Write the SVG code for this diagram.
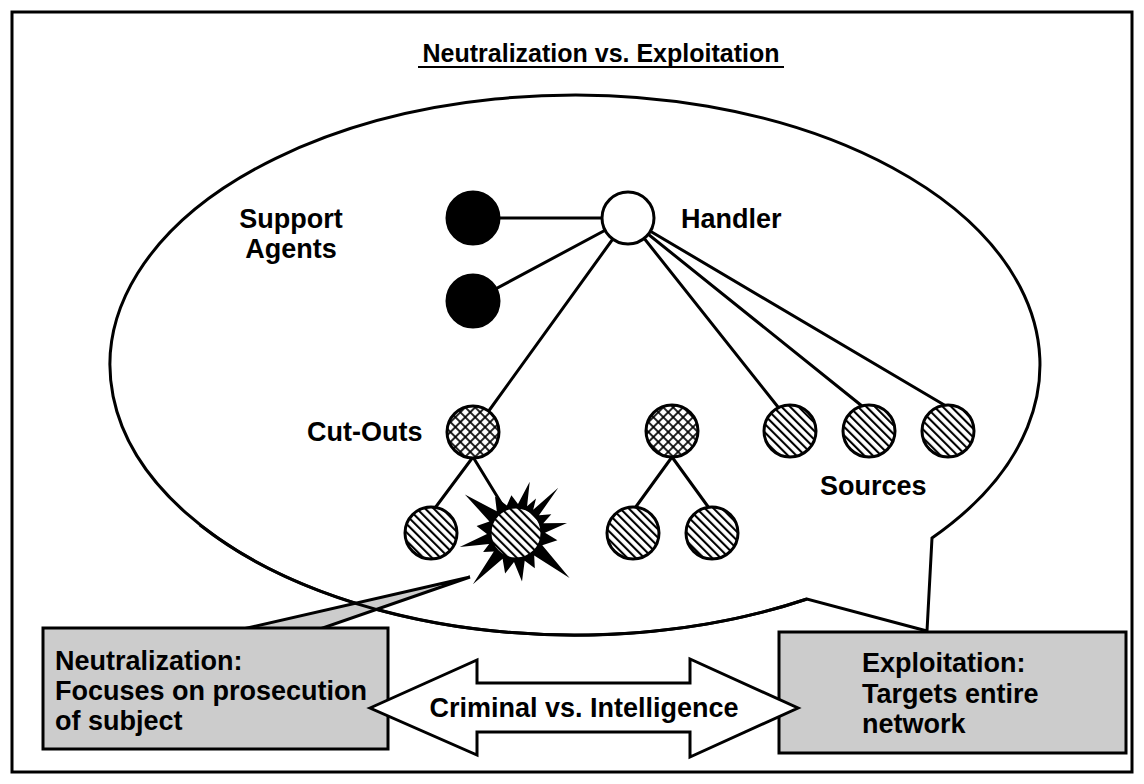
<svg xmlns="http://www.w3.org/2000/svg" width="1144" height="784" viewBox="0 0 1144 784">
  <style>
    .lbl { font-family: "Liberation Sans", Arial, sans-serif; font-weight: bold; font-size: 27px; fill: #000; }
    .title { font-family: "Liberation Sans", Arial, sans-serif; font-weight: bold; font-size: 25px; fill: #000; }
    .edge { stroke: #000; stroke-width: 3; fill: none; stroke-linecap: round; }
    .node { stroke: #000; stroke-width: 3; }
    .box { fill: #cccccc; stroke: #000; stroke-width: 3; }
  </style>
  <defs>
    <pattern id="hatch" patternUnits="userSpaceOnUse" width="6" height="6" patternTransform="rotate(-45)">
      <rect width="6" height="6" fill="#fff"/>
      <line x1="1" y1="0" x2="1" y2="6" stroke="#000" stroke-width="2.2"/>
    </pattern>
    <pattern id="cross" patternUnits="userSpaceOnUse" width="7" height="7" patternTransform="rotate(45)">
      <rect width="7" height="7" fill="#fff"/>
      <line x1="1" y1="0" x2="1" y2="7" stroke="#000" stroke-width="1.7"/>
      <line x1="0" y1="1" x2="7" y2="1" stroke="#000" stroke-width="1.7"/>
    </pattern>
  </defs>

  <rect x="0" y="0" width="1144" height="784" fill="#fff"/>
  <rect id="frame" x="12" y="12" width="1120" height="760" fill="none" stroke="#000" stroke-width="3"/>

  <g id="title">
    <text class="title" x="601" y="62" text-anchor="middle">Neutralization vs. Exploitation</text>
    <line x1="418" y1="67" x2="784" y2="67" stroke="#000" stroke-width="2"/>
  </g>

  <g id="network-bubble">
    <path d="M 932 538 L 927 631 L 807 599 A 465 270 0 1 1 932 538 Z" fill="#fff" stroke="#000" stroke-width="3" stroke-linejoin="miter"/>
  </g>

  <g id="neutralization-tail">
    <polygon points="243,629 470,577 320,629" fill="#cccccc" stroke="#000" stroke-width="3" stroke-linejoin="miter"/>
  </g>
  <path d="M 807 599 A 465 270 0 0 1 200 525" fill="none" stroke="#000" stroke-width="3"/>

  <g id="connectors">
    <line class="edge" x1="473" y1="218" x2="628" y2="218"/>
    <line class="edge" x1="473" y1="301" x2="628" y2="218"/>
    <line class="edge" x1="628" y1="218" x2="488" y2="412"/>
    <line class="edge" x1="628" y1="218" x2="778" y2="407"/>
    <line class="edge" x1="628" y1="218" x2="862" y2="406"/>
    <line class="edge" x1="628" y1="218" x2="946" y2="406"/>
    <line class="edge" x1="473" y1="457" x2="435" y2="508"/>
    <line class="edge" x1="473" y1="457" x2="503" y2="506"/>
    <line class="edge" x1="672" y1="457" x2="635" y2="508"/>
    <line class="edge" x1="672" y1="457" x2="709" y2="508"/>
  </g>

  <g id="support-agent-1"><circle class="node" cx="473" cy="218" r="26" fill="#000"/></g>
  <g id="support-agent-2"><circle class="node" cx="473" cy="301" r="26" fill="#000"/></g>
  <g id="handler"><circle class="node" cx="628" cy="218" r="26" fill="#fff"/></g>
  <g id="cutout-1"><circle class="node" cx="473" cy="432" r="26" fill="url(#cross)"/></g>
  <g id="cutout-2"><circle class="node" cx="672" cy="431" r="26" fill="url(#cross)"/></g>
  <g id="source-1"><circle class="node" cx="790" cy="431" r="26" fill="url(#hatch)"/></g>
  <g id="source-2"><circle class="node" cx="869" cy="431" r="26" fill="url(#hatch)"/></g>
  <g id="source-3"><circle class="node" cx="948" cy="431" r="26" fill="url(#hatch)"/></g>
  <g id="leaf-1"><circle class="node" cx="431" cy="533" r="26" fill="url(#hatch)"/></g>
  <g id="leaf-target">
    <polygon fill="#000" points="464.9,494.5 496.8,511.3 495,496.6 506.8,505.5 511.4,495.3 518,504.1 529.7,481.8 527.1,506.2 536,498.4 533.2,509.7 558.3,487.7 539,515.3 551.3,514.2 543.3,523.3 567,523.1 545,532.7 557.4,540.3 542.3,545.3 569.6,578 534.2,555.5 534.8,568.3 524.7,560.7 522,581.6 514,561.9 505.1,573.6 502.6,558.7 472.9,584.3 493.8,551.6 483.1,552 489.1,543.9 459.7,547 487,534 476.6,526.1 489.4,521.4"/>
    <circle class="node" cx="516" cy="533" r="26" fill="url(#hatch)"/>
  </g>
  <g id="leaf-3"><circle class="node" cx="633" cy="533" r="26" fill="url(#hatch)"/></g>
  <g id="leaf-4"><circle class="node" cx="712" cy="533" r="26" fill="url(#hatch)"/></g>

  <g id="labels">
    <text class="lbl" x="291" y="228" text-anchor="middle">Support</text>
    <text class="lbl" x="291" y="258" text-anchor="middle">Agents</text>
    <text class="lbl" x="681" y="228">Handler</text>
    <text class="lbl" x="307" y="441">Cut-Outs</text>
    <text class="lbl" x="820" y="495">Sources</text>
  </g>

  <g id="neutralization-box">
    <rect class="box" x="43" y="628" width="345" height="121"/>
    <text class="lbl" x="55" y="670">Neutralization:</text>
    <text class="lbl" x="55" y="700">Focuses on prosecution</text>
    <text class="lbl" x="55" y="730">of subject</text>
  </g>

  <g id="exploitation-box">
    <rect class="box" x="779" y="632" width="347" height="121"/>
    <text class="lbl" x="862" y="672">Exploitation:</text>
    <text class="lbl" x="862" y="703">Targets entire</text>
    <text class="lbl" x="862" y="733">network</text>
  </g>

  <g id="criminal-vs-intelligence">
    <polygon points="370,708 477,660 477,683 690,683 690,659 798,708 690,757 690,732 477,732 477,755" fill="#fff" stroke="#000" stroke-width="3" stroke-linejoin="miter"/>
    <text class="lbl" x="584" y="717" text-anchor="middle">Criminal vs. Intelligence</text>
  </g>
</svg>
